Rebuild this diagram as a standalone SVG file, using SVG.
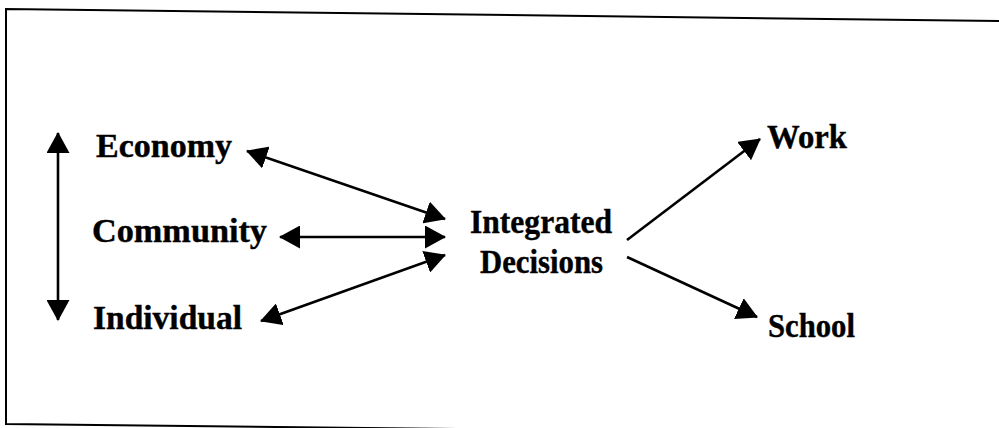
<svg xmlns="http://www.w3.org/2000/svg" width="999" height="428" viewBox="0 0 999 428">
  <style>
    .lbl { font-family: "Liberation Serif", "Times New Roman", serif; font-weight: bold; font-size: 33px; fill: #000; stroke: #000; stroke-width: 0.4px; }
    .conn { stroke: #000; stroke-width: 2.6; fill: none; }
    .frame { stroke: #000; stroke-width: 2; fill: none; }
  </style>
  <defs>
    <marker id="ah" viewBox="0 0 21 23" markerUnits="userSpaceOnUse" markerWidth="21" markerHeight="23" refX="20" refY="11.5" orient="auto-start-reverse">
      <path d="M0,0 L21,11.5 L0,23 z" fill="#000"/>
    </marker>
  </defs>
  <rect width="999" height="428" fill="#fff"/>
  <path class="frame" d="M999,21 L6,9 L6,424 L999,435"/>

  <g id="economy"><text class="lbl" x="96" y="157" textLength="136" lengthAdjust="spacingAndGlyphs">Economy</text></g>
  <g id="community"><text class="lbl" x="92" y="242" textLength="175" lengthAdjust="spacingAndGlyphs">Community</text></g>
  <g id="individual"><text class="lbl" x="93" y="329" textLength="149" lengthAdjust="spacingAndGlyphs">Individual</text></g>
  <g id="integrated-decisions">
    <text class="lbl" x="470" y="233" textLength="142" lengthAdjust="spacingAndGlyphs">Integrated</text>
    <text class="lbl" x="480" y="273" textLength="123" lengthAdjust="spacingAndGlyphs">Decisions</text>
  </g>
  <g id="work"><text class="lbl" x="767" y="148" textLength="80" lengthAdjust="spacingAndGlyphs">Work</text></g>
  <g id="school"><text class="lbl" x="768" y="337" textLength="87" lengthAdjust="spacingAndGlyphs">School</text></g>

  <g id="connectors">
    <line class="conn" x1="58" y1="133" x2="58" y2="320" marker-start="url(#ah)" marker-end="url(#ah)"/>
    <line class="conn" x1="247" y1="151" x2="445" y2="219" marker-start="url(#ah)" marker-end="url(#ah)"/>
    <line class="conn" x1="280" y1="237" x2="445" y2="237" marker-start="url(#ah)" marker-end="url(#ah)"/>
    <line class="conn" x1="261" y1="321" x2="445" y2="255" marker-start="url(#ah)" marker-end="url(#ah)"/>
    <line class="conn" x1="627" y1="240" x2="760" y2="139" marker-end="url(#ah)"/>
    <line class="conn" x1="627" y1="257" x2="757" y2="317" marker-end="url(#ah)"/>
  </g>
</svg>
